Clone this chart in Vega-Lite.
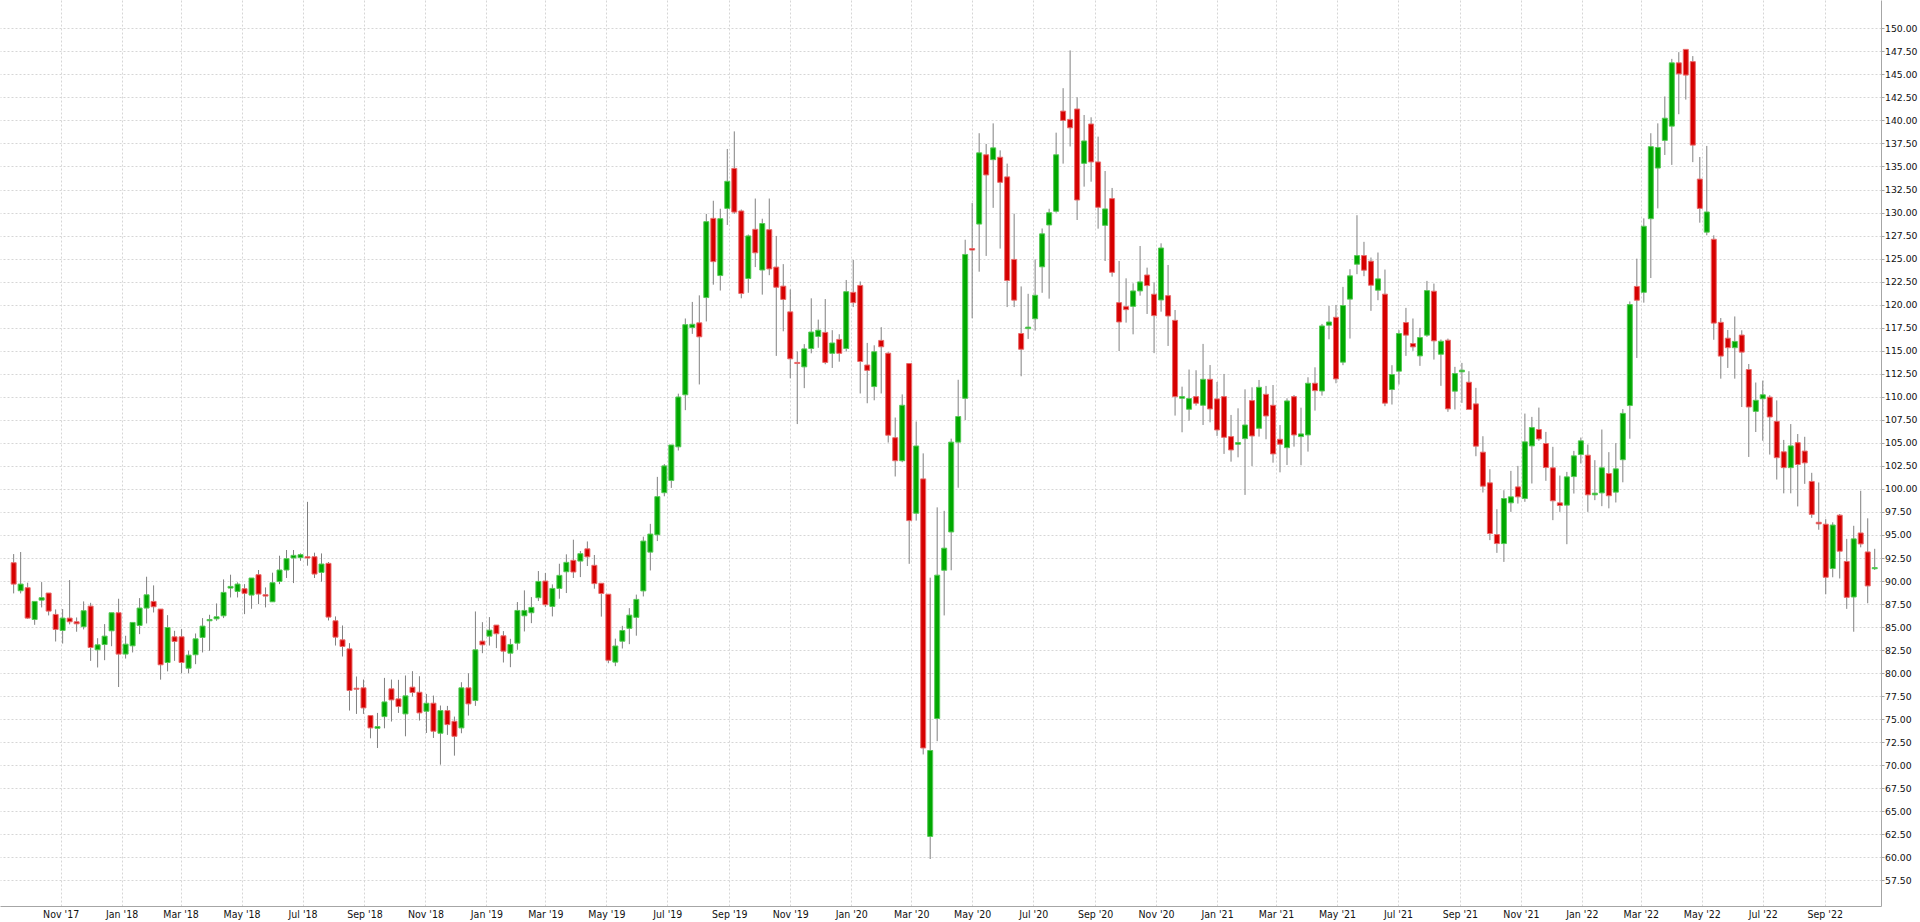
{
  "$schema": "https://vega.github.io/schema/vega-lite/v6.json",
  "width": 1881,
  "height": 906,
  "padding": 0,
  "background": "#ffffff",
  "view": {"stroke": null},
  "config": {
    "axis": {"gridColor": "#d6d6d6", "gridDash": [2, 2], "gridWidth": 1, "domainColor": "#a6a6a6", "tickColor": "#a6a6a6", "labelColor": "#111111", "labelOverlap": false},
    "axisY": {"labelOverlap": false, "labelFlush": false, "labelFont": "DejaVu Sans", "labelFontSize": 9.3, "labelPadding": 0.5, "tickSize": 3}
  },
  "data": {
    "format": {"parse": {"d": "utc:'%Y-%m-%d'"}},
    "values": [
{"d":"2017-09-15","o":91.99,"h":92.93,"l":88.66,"c":89.67},
{"d":"2017-09-22","o":88.95,"h":93.15,"l":88.66,"c":89.67},
{"d":"2017-09-29","o":89.28,"h":89.82,"l":85.9,"c":85.98},
{"d":"2017-10-06","o":85.83,"h":87.79,"l":85.25,"c":87.79},
{"d":"2017-10-13","o":87.93,"h":89.89,"l":87.14,"c":88.19},
{"d":"2017-10-20","o":88.7,"h":88.7,"l":86.27,"c":86.74},
{"d":"2017-10-27","o":86.38,"h":86.92,"l":83.44,"c":84.75},
{"d":"2017-11-03","o":84.64,"h":86.96,"l":83.22,"c":85.98},
{"d":"2017-11-10","o":85.98,"h":90.11,"l":85.3,"c":85.58},
{"d":"2017-11-17","o":85.58,"h":86.05,"l":84.5,"c":85.36},
{"d":"2017-11-24","o":85.04,"h":87.79,"l":84.75,"c":86.78},
{"d":"2017-12-01","o":87.28,"h":87.64,"l":81.34,"c":82.79},
{"d":"2017-12-08","o":82.54,"h":83.8,"l":80.62,"c":83.08},
{"d":"2017-12-15","o":83.11,"h":85.33,"l":81.41,"c":84.02},
{"d":"2017-12-22","o":84.6,"h":86.56,"l":82.93,"c":86.56},
{"d":"2017-12-29","o":86.56,"h":88.08,"l":78.5,"c":82.07},
{"d":"2018-01-05","o":82.07,"h":84.06,"l":81.59,"c":83.15},
{"d":"2018-01-12","o":82.97,"h":85.51,"l":82.25,"c":85.51},
{"d":"2018-01-19","o":85.18,"h":88.15,"l":84.24,"c":87.07},
{"d":"2018-01-26","o":87.07,"h":90.47,"l":85.4,"c":88.51},
{"d":"2018-02-02","o":87.79,"h":89.53,"l":86.59,"c":87.21},
{"d":"2018-02-09","o":86.96,"h":86.96,"l":79.3,"c":80.91},
{"d":"2018-02-16","o":81.16,"h":86.3,"l":80.2,"c":84.96},
{"d":"2018-02-23","o":83.95,"h":84.6,"l":81.34,"c":83.44},
{"d":"2018-03-02","o":83.95,"h":84.78,"l":80.0,"c":81.16},
{"d":"2018-03-09","o":80.54,"h":82.43,"l":80.0,"c":81.96},
{"d":"2018-03-16","o":82.0,"h":84.31,"l":80.98,"c":83.73},
{"d":"2018-03-23","o":83.88,"h":85.98,"l":82.25,"c":85.11},
{"d":"2018-03-30","o":85.69,"h":86.34,"l":82.43,"c":85.83},
{"d":"2018-04-06","o":85.9,"h":87.57,"l":85.69,"c":86.12},
{"d":"2018-04-13","o":86.23,"h":90.18,"l":85.98,"c":88.77},
{"d":"2018-04-20","o":89.24,"h":90.69,"l":88.22,"c":89.42},
{"d":"2018-04-27","o":88.88,"h":89.86,"l":88.22,"c":89.67},
{"d":"2018-05-04","o":89.17,"h":89.67,"l":86.41,"c":88.66},
{"d":"2018-05-11","o":88.48,"h":90.33,"l":86.99,"c":90.33},
{"d":"2018-05-18","o":90.69,"h":91.2,"l":87.5,"c":88.59},
{"d":"2018-05-25","o":88.52,"h":89.31,"l":87.14,"c":88.37},
{"d":"2018-06-01","o":87.75,"h":90.91,"l":87.75,"c":89.82},
{"d":"2018-06-08","o":89.96,"h":92.75,"l":89.67,"c":91.2},
{"d":"2018-06-15","o":91.2,"h":93.37,"l":90.33,"c":92.43},
{"d":"2018-06-22","o":92.5,"h":93.37,"l":89.78,"c":92.79},
{"d":"2018-06-29","o":92.54,"h":93.0,"l":92.2,"c":92.86},
{"d":"2018-07-06","o":92.64,"h":98.6,"l":91.67,"c":92.5},
{"d":"2018-07-13","o":92.64,"h":93.08,"l":90.33,"c":90.76},
{"d":"2018-07-20","o":90.94,"h":93.0,"l":89.93,"c":91.85},
{"d":"2018-07-27","o":91.92,"h":92.07,"l":85.72,"c":86.09},
{"d":"2018-08-03","o":85.69,"h":86.16,"l":83.0,"c":83.91},
{"d":"2018-08-10","o":83.62,"h":85.18,"l":81.81,"c":82.9},
{"d":"2018-08-17","o":82.64,"h":83.26,"l":75.94,"c":78.12},
{"d":"2018-08-24","o":78.37,"h":79.64,"l":75.58,"c":78.26},
{"d":"2018-08-31","o":78.41,"h":79.31,"l":75.58,"c":76.23},
{"d":"2018-09-07","o":75.4,"h":75.4,"l":72.93,"c":74.06},
{"d":"2018-09-14","o":74.02,"h":75.69,"l":71.88,"c":74.2},
{"d":"2018-09-21","o":75.29,"h":79.49,"l":74.02,"c":76.88},
{"d":"2018-09-28","o":78.3,"h":79.31,"l":74.75,"c":77.1},
{"d":"2018-10-05","o":77.21,"h":79.28,"l":75.69,"c":76.38},
{"d":"2018-10-12","o":75.58,"h":79.75,"l":73.15,"c":77.54},
{"d":"2018-10-19","o":78.48,"h":80.22,"l":77.46,"c":77.9},
{"d":"2018-10-26","o":77.93,"h":79.67,"l":74.86,"c":75.69},
{"d":"2018-11-02","o":75.87,"h":77.75,"l":73.51,"c":76.74},
{"d":"2018-11-09","o":76.74,"h":77.57,"l":72.97,"c":73.7},
{"d":"2018-11-16","o":73.48,"h":76.49,"l":70.07,"c":75.94},
{"d":"2018-11-23","o":75.94,"h":76.45,"l":73.3,"c":74.42},
{"d":"2018-11-30","o":74.78,"h":75.29,"l":71.05,"c":73.15},
{"d":"2018-12-07","o":74.06,"h":79.02,"l":73.48,"c":78.41},
{"d":"2018-12-14","o":78.41,"h":80.0,"l":75.4,"c":76.67},
{"d":"2018-12-21","o":77.03,"h":86.7,"l":76.45,"c":82.54},
{"d":"2018-12-28","o":83.48,"h":85.54,"l":82.17,"c":83.08},
{"d":"2019-01-04","o":84.02,"h":86.09,"l":83.0,"c":84.67},
{"d":"2019-01-11","o":85.22,"h":85.22,"l":82.72,"c":84.28},
{"d":"2019-01-18","o":84.06,"h":84.57,"l":81.16,"c":82.39},
{"d":"2019-01-25","o":82.17,"h":83.73,"l":80.65,"c":83.12},
{"d":"2019-02-01","o":83.26,"h":87.72,"l":82.54,"c":86.81},
{"d":"2019-02-08","o":86.23,"h":88.99,"l":84.53,"c":86.81},
{"d":"2019-02-15","o":86.56,"h":88.26,"l":85.43,"c":87.14},
{"d":"2019-02-22","o":88.19,"h":91.09,"l":87.83,"c":89.96},
{"d":"2019-03-01","o":90.0,"h":90.87,"l":87.17,"c":87.43},
{"d":"2019-03-08","o":87.25,"h":89.64,"l":86.16,"c":89.2},
{"d":"2019-03-15","o":89.2,"h":91.88,"l":88.08,"c":90.62},
{"d":"2019-03-22","o":91.01,"h":92.9,"l":88.7,"c":92.03},
{"d":"2019-03-29","o":92.25,"h":94.49,"l":90.33,"c":90.98},
{"d":"2019-04-05","o":92.17,"h":93.26,"l":90.43,"c":92.97},
{"d":"2019-04-12","o":93.5,"h":94.3,"l":91.63,"c":92.63},
{"d":"2019-04-19","o":91.71,"h":92.83,"l":89.17,"c":89.72},
{"d":"2019-04-26","o":89.76,"h":89.76,"l":86.14,"c":88.65},
{"d":"2019-05-03","o":88.57,"h":88.57,"l":81.08,"c":81.4},
{"d":"2019-05-10","o":81.2,"h":83.75,"l":80.76,"c":82.95},
{"d":"2019-05-17","o":83.47,"h":85.14,"l":82.68,"c":84.63},
{"d":"2019-05-24","o":84.87,"h":87.06,"l":83.15,"c":86.3},
{"d":"2019-05-31","o":86.06,"h":88.53,"l":84.07,"c":88.01},
{"d":"2019-06-07","o":88.93,"h":94.82,"l":88.33,"c":94.34},
{"d":"2019-06-14","o":93.14,"h":96.21,"l":91.15,"c":95.1},
{"d":"2019-06-21","o":95.02,"h":101.31,"l":94.34,"c":99.16},
{"d":"2019-06-28","o":99.59,"h":102.7,"l":99.2,"c":102.5},
{"d":"2019-07-05","o":100.91,"h":104.77,"l":100.11,"c":104.77},
{"d":"2019-07-12","o":104.57,"h":110.34,"l":104.17,"c":109.98},
{"d":"2019-07-19","o":110.22,"h":118.5,"l":108.55,"c":117.83},
{"d":"2019-07-26","o":117.51,"h":120.3,"l":116.83,"c":117.87},
{"d":"2019-08-02","o":118.03,"h":121.01,"l":111.34,"c":116.51},
{"d":"2019-08-09","o":120.77,"h":129.85,"l":118.18,"c":129.01},
{"d":"2019-08-16","o":129.37,"h":131.28,"l":122.17,"c":124.67},
{"d":"2019-08-23","o":123.16,"h":130.41,"l":121.53,"c":129.33},
{"d":"2019-08-30","o":130.45,"h":136.9,"l":128.65,"c":133.39},
{"d":"2019-09-06","o":134.79,"h":138.81,"l":129.85,"c":130.05},
{"d":"2019-09-13","o":130.17,"h":130.33,"l":120.69,"c":121.21},
{"d":"2019-09-20","o":122.84,"h":127.62,"l":121.29,"c":127.46},
{"d":"2019-09-27","o":128.18,"h":131.52,"l":124.08,"c":125.63},
{"d":"2019-10-04","o":123.76,"h":129.33,"l":121.09,"c":128.81},
{"d":"2019-10-11","o":128.14,"h":131.52,"l":123.2,"c":123.88},
{"d":"2019-10-18","o":124.08,"h":127.46,"l":114.44,"c":121.89},
{"d":"2019-10-25","o":122.01,"h":124.4,"l":117.11,"c":120.57},
{"d":"2019-11-01","o":119.22,"h":121.65,"l":112.01,"c":114.12},
{"d":"2019-11-08","o":113.73,"h":114.92,"l":107.04,"c":113.61},
{"d":"2019-11-15","o":113.25,"h":115.72,"l":110.94,"c":115.2},
{"d":"2019-11-22","o":115.24,"h":120.69,"l":114.72,"c":117.03},
{"d":"2019-11-29","o":116.55,"h":118.38,"l":115.32,"c":117.23},
{"d":"2019-12-06","o":116.99,"h":120.61,"l":113.53,"c":113.73},
{"d":"2019-12-13","o":114.72,"h":117.23,"l":113.13,"c":115.84},
{"d":"2019-12-20","o":116.23,"h":116.79,"l":113.81,"c":114.72},
{"d":"2019-12-27","o":115.24,"h":122.68,"l":114.92,"c":121.41},
{"d":"2020-01-03","o":121.34,"h":124.86,"l":119.74,"c":120.22},
{"d":"2020-01-10","o":122.09,"h":122.52,"l":110.36,"c":113.83},
{"d":"2020-01-17","o":113.45,"h":115.85,"l":109.3,"c":112.87},
{"d":"2020-01-24","o":111.11,"h":115.59,"l":109.62,"c":114.89},
{"d":"2020-01-31","o":116.12,"h":117.56,"l":110.36,"c":115.43},
{"d":"2020-02-07","o":114.73,"h":114.84,"l":105.03,"c":105.83},
{"d":"2020-02-14","o":105.56,"h":107.75,"l":101.35,"c":103.06},
{"d":"2020-02-21","o":103.06,"h":110.26,"l":102.9,"c":109.08},
{"d":"2020-02-28","o":113.61,"h":113.61,"l":91.87,"c":96.56},
{"d":"2020-03-06","o":97.36,"h":107.32,"l":96.56,"c":104.66},
{"d":"2020-03-13","o":101.09,"h":103.86,"l":71.18,"c":71.88},
{"d":"2020-03-20","o":62.28,"h":90.37,"l":59.83,"c":71.61},
{"d":"2020-03-27","o":75.08,"h":98.0,"l":72.62,"c":90.64},
{"d":"2020-04-03","o":91.17,"h":97.62,"l":86.27,"c":93.57},
{"d":"2020-04-10","o":95.33,"h":105.46,"l":91.17,"c":105.08},
{"d":"2020-04-17","o":105.08,"h":111.85,"l":100.13,"c":107.86},
{"d":"2020-04-24","o":109.83,"h":127.05,"l":107.48,"c":125.45},
{"d":"2020-05-01","o":126.09,"h":131.04,"l":118.52,"c":125.93},
{"d":"2020-05-08","o":128.75,"h":138.61,"l":123.58,"c":136.48},
{"d":"2020-05-15","o":136.27,"h":137.44,"l":125.29,"c":134.08},
{"d":"2020-05-22","o":135.74,"h":139.68,"l":130.51,"c":137.02},
{"d":"2020-05-29","o":136.0,"h":136.75,"l":126.09,"c":133.28},
{"d":"2020-06-05","o":133.87,"h":135.31,"l":119.74,"c":122.62},
{"d":"2020-06-12","o":124.91,"h":129.87,"l":119.74,"c":120.49},
{"d":"2020-06-19","o":116.87,"h":121.98,"l":112.23,"c":115.16},
{"d":"2020-06-26","o":117.4,"h":121.18,"l":116.28,"c":117.56},
{"d":"2020-07-03","o":118.47,"h":124.91,"l":117.19,"c":121.02},
{"d":"2020-07-10","o":124.11,"h":128.27,"l":121.29,"c":127.69},
{"d":"2020-07-17","o":128.65,"h":130.41,"l":120.65,"c":129.98},
{"d":"2020-07-24","o":130.14,"h":138.67,"l":129.98,"c":136.27},
{"d":"2020-07-31","o":141.01,"h":143.5,"l":135.31,"c":140.0},
{"d":"2020-08-07","o":140.11,"h":147.6,"l":137.17,"c":139.2},
{"d":"2020-08-14","o":141.24,"h":142.51,"l":129.19,"c":131.36},
{"d":"2020-08-21","o":135.34,"h":140.59,"l":132.81,"c":137.77},
{"d":"2020-08-28","o":139.61,"h":140.34,"l":133.35,"c":135.49},
{"d":"2020-09-04","o":135.49,"h":138.24,"l":128.25,"c":130.57},
{"d":"2020-09-11","o":128.61,"h":134.51,"l":124.74,"c":130.39},
{"d":"2020-09-18","o":131.51,"h":132.67,"l":123.04,"c":123.51},
{"d":"2020-09-25","o":120.22,"h":124.74,"l":114.97,"c":118.12},
{"d":"2020-10-02","o":119.79,"h":122.86,"l":118.05,"c":119.46},
{"d":"2020-10-09","o":119.82,"h":122.32,"l":116.78,"c":121.49},
{"d":"2020-10-16","o":121.49,"h":126.37,"l":120.98,"c":122.47},
{"d":"2020-10-23","o":123.22,"h":124.02,"l":118.99,"c":122.07},
{"d":"2020-10-30","o":121.13,"h":122.43,"l":114.74,"c":118.81},
{"d":"2020-11-06","o":120.51,"h":126.66,"l":119.24,"c":126.15},
{"d":"2020-11-13","o":120.98,"h":124.31,"l":115.52,"c":118.77},
{"d":"2020-11-20","o":118.3,"h":119.42,"l":107.96,"c":110.02},
{"d":"2020-11-27","o":109.84,"h":111.1,"l":106.15,"c":110.02},
{"d":"2020-12-04","o":108.65,"h":112.96,"l":107.41,"c":109.81},
{"d":"2020-12-11","o":110.02,"h":112.88,"l":109.04,"c":109.3},
{"d":"2020-12-18","o":109.08,"h":115.74,"l":106.94,"c":111.9},
{"d":"2020-12-25","o":111.9,"h":113.45,"l":107.23,"c":108.68},
{"d":"2021-01-01","o":109.77,"h":111.61,"l":105.75,"c":106.4},
{"d":"2021-01-08","o":110.02,"h":112.48,"l":103.8,"c":105.6},
{"d":"2021-01-15","o":105.68,"h":108.03,"l":102.96,"c":104.23},
{"d":"2021-01-22","o":104.85,"h":108.75,"l":103.43,"c":105.03},
{"d":"2021-01-29","o":105.46,"h":110.81,"l":99.35,"c":106.94},
{"d":"2021-02-05","o":109.59,"h":111.03,"l":102.49,"c":105.75},
{"d":"2021-02-12","o":106.58,"h":111.83,"l":105.68,"c":111.03},
{"d":"2021-02-19","o":110.27,"h":111.18,"l":105.39,"c":107.92},
{"d":"2021-02-26","o":109.08,"h":111.28,"l":102.85,"c":103.8},
{"d":"2021-03-05","o":105.39,"h":106.94,"l":101.8,"c":104.85},
{"d":"2021-03-12","o":104.48,"h":109.84,"l":102.6,"c":109.55},
{"d":"2021-03-19","o":110.02,"h":110.2,"l":104.59,"c":105.86},
{"d":"2021-03-26","o":105.68,"h":108.82,"l":102.57,"c":105.97},
{"d":"2021-04-02","o":105.86,"h":112.12,"l":104.05,"c":111.47},
{"d":"2021-04-09","o":111.47,"h":113.2,"l":108.5,"c":110.67},
{"d":"2021-04-16","o":110.63,"h":117.91,"l":110.13,"c":117.69},
{"d":"2021-04-23","o":117.77,"h":119.86,"l":116.24,"c":118.12},
{"d":"2021-04-30","o":118.63,"h":119.97,"l":111.47,"c":111.94},
{"d":"2021-05-07","o":113.76,"h":121.93,"l":113.43,"c":119.91},
{"d":"2021-05-14","o":120.6,"h":123.85,"l":116.32,"c":123.13},
{"d":"2021-05-21","o":124.39,"h":129.71,"l":123.31,"c":125.33},
{"d":"2021-05-28","o":125.33,"h":126.82,"l":123.09,"c":123.74},
{"d":"2021-06-04","o":124.72,"h":125.12,"l":119.33,"c":122.11},
{"d":"2021-06-11","o":121.57,"h":125.66,"l":120.48,"c":122.8},
{"d":"2021-06-18","o":121.14,"h":123.81,"l":108.98,"c":109.31},
{"d":"2021-06-25","o":110.79,"h":113.43,"l":109.16,"c":112.42},
{"d":"2021-07-02","o":112.78,"h":117.23,"l":111.33,"c":116.87},
{"d":"2021-07-09","o":118.06,"h":119.65,"l":114.44,"c":116.69},
{"d":"2021-07-16","o":115.78,"h":118.5,"l":114.99,"c":115.42},
{"d":"2021-07-23","o":114.44,"h":117.48,"l":113.36,"c":116.43},
{"d":"2021-07-30","o":116.69,"h":122.58,"l":116.51,"c":121.53},
{"d":"2021-08-06","o":121.46,"h":122.29,"l":114.04,"c":116.07},
{"d":"2021-08-13","o":114.62,"h":116.22,"l":111.19,"c":116.03},
{"d":"2021-08-20","o":116.14,"h":116.32,"l":108.37,"c":108.69},
{"d":"2021-08-27","o":110.61,"h":113.25,"l":108.62,"c":112.53},
{"d":"2021-09-03","o":112.71,"h":113.68,"l":109.34,"c":112.89},
{"d":"2021-09-10","o":111.58,"h":112.78,"l":108.62,"c":108.62},
{"d":"2021-09-17","o":109.23,"h":110.97,"l":103.55,"c":104.64},
{"d":"2021-09-24","o":103.99,"h":105.72,"l":99.61,"c":100.3},
{"d":"2021-10-01","o":100.66,"h":102.14,"l":94.44,"c":95.16},
{"d":"2021-10-08","o":95.05,"h":97.8,"l":93.06,"c":94.07},
{"d":"2021-10-15","o":94.07,"h":99.86,"l":92.08,"c":98.96},
{"d":"2021-10-22","o":98.49,"h":101.96,"l":97.51,"c":99.14},
{"d":"2021-10-29","o":100.22,"h":102.5,"l":98.41,"c":99.14},
{"d":"2021-11-05","o":98.96,"h":108.18,"l":98.6,"c":105.11},
{"d":"2021-11-12","o":104.67,"h":107.82,"l":100.59,"c":106.66},
{"d":"2021-11-19","o":106.45,"h":108.83,"l":105.22,"c":105.43},
{"d":"2021-11-26","o":104.93,"h":106.19,"l":100.88,"c":102.32},
{"d":"2021-12-03","o":102.29,"h":104.57,"l":96.61,"c":98.71},
{"d":"2021-12-10","o":98.49,"h":101.45,"l":97.51,"c":98.2},
{"d":"2021-12-17","o":98.24,"h":101.85,"l":94.0,"c":101.31},
{"d":"2021-12-24","o":101.34,"h":104.13,"l":99.5,"c":103.59},
{"d":"2021-12-31","o":103.73,"h":105.58,"l":102.76,"c":105.22},
{"d":"2022-01-07","o":103.66,"h":104.82,"l":97.51,"c":99.36},
{"d":"2022-01-14","o":99.36,"h":103.12,"l":98.78,"c":99.54},
{"d":"2022-01-21","o":99.57,"h":106.45,"l":98.13,"c":102.29},
{"d":"2022-01-28","o":101.67,"h":103.99,"l":97.89,"c":99.26},
{"d":"2022-02-04","o":99.65,"h":104.97,"l":98.53,"c":102.18},
{"d":"2022-02-11","o":103.17,"h":108.67,"l":100.72,"c":108.2},
{"d":"2022-02-18","o":109.05,"h":120.35,"l":105.45,"c":120.01},
{"d":"2022-02-25","o":121.98,"h":124.99,"l":114.21,"c":120.48},
{"d":"2022-03-04","o":121.34,"h":129.37,"l":120.22,"c":128.51},
{"d":"2022-03-11","o":129.33,"h":138.61,"l":122.89,"c":137.15},
{"d":"2022-03-18","o":134.83,"h":139.68,"l":130.45,"c":137.06},
{"d":"2022-03-25","o":137.83,"h":142.6,"l":136.25,"c":140.24},
{"d":"2022-04-01","o":139.38,"h":146.68,"l":135.17,"c":146.25},
{"d":"2022-04-08","o":146.25,"h":147.41,"l":140.67,"c":145.05},
{"d":"2022-04-15","o":147.71,"h":147.71,"l":142.26,"c":144.92},
{"d":"2022-04-22","o":146.38,"h":146.98,"l":135.47,"c":137.32},
{"d":"2022-04-29","o":133.63,"h":136.03,"l":128.9,"c":130.45},
{"d":"2022-05-06","o":127.87,"h":137.23,"l":127.53,"c":130.06},
{"d":"2022-05-13","o":127.1,"h":127.53,"l":116.19,"c":118.0},
{"d":"2022-05-20","o":118.08,"h":118.55,"l":111.97,"c":114.42},
{"d":"2022-05-27","o":116.36,"h":117.26,"l":113.13,"c":115.33},
{"d":"2022-06-03","o":115.33,"h":118.72,"l":111.97,"c":116.01},
{"d":"2022-06-10","o":116.7,"h":117.22,"l":108.89,"c":114.85},
{"d":"2022-06-17","o":112.96,"h":113.56,"l":103.47,"c":108.89},
{"d":"2022-06-24","o":108.42,"h":111.55,"l":106.18,"c":109.62},
{"d":"2022-07-01","o":109.79,"h":111.76,"l":105.23,"c":110.22},
{"d":"2022-07-08","o":109.96,"h":110.17,"l":103.73,"c":107.81},
{"d":"2022-07-15","o":107.34,"h":109.61,"l":101.02,"c":103.39},
{"d":"2022-07-22","o":104.03,"h":105.32,"l":99.52,"c":102.31},
{"d":"2022-07-29","o":102.31,"h":107.04,"l":99.52,"c":104.67},
{"d":"2022-08-05","o":105.02,"h":105.96,"l":98.1,"c":102.65},
{"d":"2022-08-12","o":104.11,"h":105.66,"l":100.55,"c":102.83},
{"d":"2022-08-19","o":100.81,"h":101.75,"l":96.86,"c":97.24},
{"d":"2022-08-26","o":96.38,"h":100.7,"l":95.57,"c":96.21},
{"d":"2022-09-02","o":96.17,"h":96.72,"l":88.57,"c":90.41},
{"d":"2022-09-09","o":91.36,"h":96.38,"l":90.41,"c":96.08},
{"d":"2022-09-16","o":97.15,"h":97.28,"l":90.28,"c":93.24},
{"d":"2022-09-23","o":92.13,"h":94.58,"l":86.98,"c":88.23},
{"d":"2022-09-30","o":88.27,"h":96.0,"l":84.5,"c":94.58},
{"d":"2022-10-07","o":95.22,"h":99.8,"l":93.66,"c":94.03},
{"d":"2022-10-14","o":93.16,"h":96.81,"l":87.59,"c":89.47},
{"d":"2022-10-21","o":91.34,"h":93.5,"l":91.2,"c":91.46}
    ]
  },
  "encoding": {
    "x": {
      "field": "d",
      "type": "temporal",
      "scale": {"type": "utc", "domain": [1504685376000, 1666421856000]},
      "axis": {
        "title": null,
        "orient": "bottom",
        "tickCount": {"interval": "month", "step": 2},
        "format": "%b '%y",
        "labelFont": "DejaVu Sans Condensed",
        "labelFontSize": 10.5,
        "labelPadding": 3,
        "tickSize": 0,
        "grid": true,
        "labelFlush": false,
        "labelOverlap": false
      }
    },
    "y": {
      "field": "l",
      "type": "quantitative",
      "scale": {"domain": [54.73, 153.07], "zero": false, "nice": false},
      "axis": {
        "title": null,
        "orient": "right",
        "values": [57.5, 60, 62.5, 65, 67.5, 70, 72.5, 75, 77.5, 80, 82.5, 85, 87.5, 90, 92.5, 95, 97.5, 100, 102.5, 105, 107.5, 110, 112.5, 115, 117.5, 120, 122.5, 125, 127.5, 130, 132.5, 135, 137.5, 140, 142.5, 145, 147.5, 150],
        "format": ".2f",
        "labelOverlap": false,
        "labelFlush": false,
        "grid": true
      }
    }
  },
  "layer": [
    {
      "mark": {"type": "rule", "color": "#808080", "strokeWidth": 1},
      "encoding": {
        "y2": {"field": "h"}
      }
    },
    {
      "mark": {"type": "bar", "size": 5, "strokeWidth": 1},
      "encoding": {
        "y": {"field": "o", "type": "quantitative"},
        "y2": {"field": "c"},
        "color": {
          "condition": {"test": "datum.c >= datum.o", "value": "#00a800"},
          "value": "#d60000"
        },
        "stroke": {
          "condition": {"test": "datum.c >= datum.o", "value": "#55c855"},
          "value": "#e86a6a"
        }
      }
    }
  ]
}
